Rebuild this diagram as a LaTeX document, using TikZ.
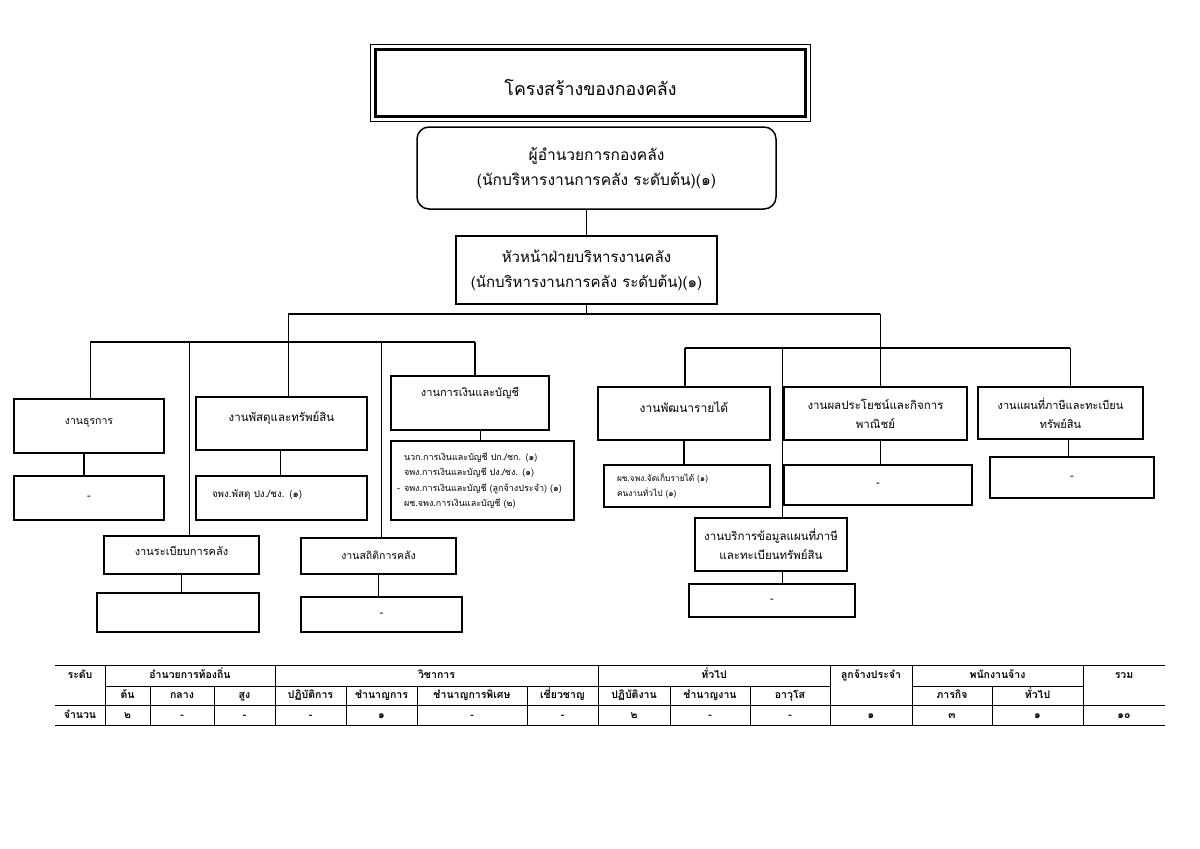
\documentclass[tikz,border=0pt]{standalone}
\usepackage{fontspec}
\setmainfont[Script=Thai]{Loma}
\newcommand\fsz[2]{\fontsize{#1}{#2}\selectfont}
\begin{document}
\begin{tikzpicture}[x=1pt,y=-1pt,
  box/.style={draw, line width=1.4pt, inner sep=0pt, align=center, font=\fsz{11}{19}},
  one/.style={text height=8pt, text depth=#1},
  one/.default=2pt,
  sub/.style={draw, line width=1.4pt, inner ysep=0pt, align=left, font=\fsz{9}{15.5}},
  conn/.style={line width=0.9pt},
  thk/.style={line width=2.4pt},
  bus/.style={line width=2.8pt},
  grid/.style={line width=0.8pt},
  cell/.style={inner sep=0pt, font=\fsz{10.5}{12}\bfseries, text height=7pt, text depth=2pt}
]
\useasboundingbox (0,0) rectangle (1200,849);
\fill[white] (0,0) rectangle (1200,849);

% ---- top
\node[draw, line width=2.2pt, minimum width=430, minimum height=67, inner sep=0pt,
      font=\fsz{17.8}{20}, text height=26pt, text depth=2pt] (title) at (590.5,83) {โครงสร้างของกองคลัง};
\draw[line width=1.2pt] ([xshift=-4pt,yshift=4pt]title.north west) rectangle ([xshift=4pt,yshift=-4pt]title.south east);

\node[draw, line width=1.5pt, rounded corners=12pt, minimum width=359, minimum height=82, inner sep=0pt,
      align=center, font=\fsz{15.5}{25}] (dir) at (596.5,168) {ผู้อำนวยการกองคลัง\\(นักบริหารงานการคลัง ระดับต้น)(๑)};
\node[box, line width=1.2pt, minimum width=261, minimum height=68, font=\fsz{15}{25}] (head) at (586.5,270)
      {หัวหน้าฝ่ายบริหารงานคลัง\\(นักบริหารงานการคลัง ระดับต้น)(๑)};

% ---- left group
\node[box, font=\fsz{10.5}{19}, one=12pt, minimum width=150, minimum height=54] (thu) at (89,426) {งานธุรการ};
\node[box, minimum width=150, minimum height=44] (thus) at (89,498) {-};
\node[box, font=\fsz{11.5}{19}, one=13pt, minimum width=171, minimum height=53] (pas) at (281.5,423.5) {งานพัสดุและทรัพย์สิน};
\node[sub, font=\fsz{9.8}{15.5}, minimum width=171, minimum height=44, text width=139pt, inner xsep=16pt] (pass) at (281.5,498)
      {จพง.พัสดุ ปง./ชง. (๑)\\[-6pt]\mbox{}};
\node[box, one=22pt, minimum width=158, minimum height=54] (fin) at (470,403) {งานการเงินและบัญชี};
\node[sub, minimum width=183, minimum height=79, text width=159pt, inner xsep=12pt] (fins) at (482.5,480.5)
      {\hspace*{1pt}นวก.การเงินและบัญชี ปก./ชก. (๑)\\\hspace*{1pt}จพง.การเงินและบัญชี ปง./ชง. (๑)\\\leavevmode\llap{- }\mbox{\hspace*{1pt}จพง.การเงินและบัญชี (ลูกจ้างประจำ) (๑)}\\\hspace*{1pt}ผช.จพง.การเงินและบัญชี (๒)};
\node[box, one=8pt, minimum width=155, minimum height=38] (reg) at (181.5,555) {งานระเบียบการคลัง};
\node[box, minimum width=162, minimum height=39] (regs) at (178,612.5) {};
\node[box, font=\fsz{10.5}{19}, one, minimum width=155, minimum height=36] (sta) at (378.5,556) {งานสถิติการคลัง};
\node[box, minimum width=161, minimum height=35] (stas) at (381.5,614.5) {-};

% ---- right group
\node[box, font=\fsz{12}{19}, one=11pt, minimum width=172, minimum height=53] (dev) at (684,413.5) {งานพัฒนารายได้};
\node[sub, font=\fsz{8.4}{15}, minimum width=166, minimum height=42, text width=140pt, inner xsep=13pt] (devs) at (687,486)
      {ผช.จพง.จัดเก็บรายได้ (๑)\\คนงานทั่วไป (๑)};
\node[box, font=\fsz{11.5}{19}, minimum width=183, minimum height=53] (ben) at (875.5,413.5) {งานผลประโยชน์และกิจการ\\พาณิชย์};
\node[box, minimum width=188, minimum height=40] (bens) at (878,485) {-};
\node[box, minimum width=165, minimum height=52] (map) at (1060.5,413) {งานแผนที่ภาษีและทะเบียน\\ทรัพย์สิน};
\node[box, line width=2pt, minimum width=164, minimum height=41] (maps) at (1072,477.5) {-};
\node[box, font=\fsz{11.5}{19}, minimum width=152, minimum height=53] (svc) at (771,544.5) {งานบริการข้อมูลแผนที่ภาษี\\และทะเบียนทรัพย์สิน};
\node[box, minimum width=166, minimum height=33] (svcs) at (772,600.5) {-};

% ---- connector coordinates
\coordinate (tl) at (288,314);
\coordinate (tr) at (880,314);
\coordinate (ll) at (90,342);
\coordinate (lr) at (475,342);
\coordinate (jreg) at (189,342);
\coordinate (jsta) at (381,342);
\coordinate (rl) at (685,348);
\coordinate (rr) at (1070,348);
\coordinate (jsvc) at (782,348);

\draw[conn] (head.north) -- (head.north |- dir.south);
\draw[conn] (head.south) -- (head.south |- tl);
\draw[bus] (tl) -- (tr);
\draw[conn] (tl) -- (tl |- ll);
\draw[bus] (ll) -- (lr);
\draw[conn] (ll) -- (ll |- thu.north);
\draw[conn] (jreg) -- (jreg |- reg.north);
\draw[conn] (tl |- ll) -- (tl |- pas.north);
\draw[conn] (jsta) -- (jsta |- sta.north);
\draw[thk] (lr) -- (lr |- fin.north);

\draw[conn] (tr) -- (tr |- ben.north);
\draw[bus] (rl) -- (rr);
\draw[thk] (rl) -- (rl |- dev.north);
\draw[conn] (jsvc) -- (jsvc |- svc.north);
\draw[conn] (rr) -- (rr |- map.north);

% ---- sub connectors
\draw[thk] ([xshift=-5pt]thu.south) -- ([xshift=-5pt]thu.south |- thus.north);
\draw[conn] ([xshift=-1.5pt]pas.south) -- ([xshift=-1.5pt]pas.south |- pass.north);
\draw[conn] ([xshift=-2.5pt]fins.north) -- ([xshift=-2.5pt]fins.north |- fin.south);
\draw[conn] (reg.south) -- (reg.south |- regs.north);
\draw[conn] (sta.south) -- (sta.south |- stas.north);
\draw[thk] (dev.south) -- (dev.south |- devs.north);
\draw[conn] ([xshift=4.5pt]ben.south) -- ([xshift=4.5pt]ben.south |- bens.north);
\draw[conn] ([xshift=-4pt]maps.north) -- ([xshift=-4pt]maps.north |- map.south);
\draw[conn] (jsvc |- svc.south) -- (jsvc |- svcs.north);

% ---- table
\draw[grid] (55,665) -- (1165,665);
\draw[grid] (55,705) -- (1165,705);
\draw[grid] (55,725) -- (1165,725);
\draw[grid] (105,686) -- (830,686);
\draw[grid] (912,686) -- (1083,686);
\foreach \x in {105,275,598,830,912,1083} \draw[grid] (\x,665) -- (\x,725);
\foreach \x in {150,214,346,417,527,670,750,992} \draw[grid] (\x,686) -- (\x,725);

\node[cell] (h0) at (80,676) {ระดับ};
\node[cell] (h1) at (190,676) {อำนวยการท้องถิ่น};
\node[cell] (h2) at (436.5,676) {วิชาการ};
\node[cell] (h3) at (714,676) {ทั่วไป};
\node[cell] (h4) at (871,676) {ลูกจ้างประจำ};
\node[cell] (h5) at (997.5,676) {พนักงานจ้าง};
\node[cell] (h6) at (1124,676) {รวม};

\node[cell] (s1) at (127.5,696) {ต้น};
\node[cell] (s2) at (182,696) {กลาง};
\node[cell] (s3) at (244.5,696) {สูง};
\node[cell] (s4) at (310.5,696) {ปฏิบัติการ};
\node[cell] (s5) at (381.5,696) {ชำนาญการ};
\node[cell] (s6) at (472,696) {ชำนาญการพิเศษ};
\node[cell] (s7) at (562.5,696) {เชี่ยวชาญ};
\node[cell] (s8) at (634,696) {ปฏิบัติงาน};
\node[cell] (s9) at (710,696) {ชำนาญงาน};
\node[cell] (s10) at (790,696) {อาวุโส};
\node[cell] (s11) at (952,696) {ภารกิจ};
\node[cell] (s12) at (1037.5,696) {ทั่วไป};

\node[cell] (n0) at (80,716) {จำนวน};
\node[cell] (n1) at (127.5,716) {๒};
\node[cell] (n2) at (182,716) {-};
\node[cell] (n3) at (244.5,716) {-};
\node[cell] (n4) at (310.5,716) {-};
\node[cell] (n5) at (381.5,716) {๑};
\node[cell] (n6) at (472,716) {-};
\node[cell] (n7) at (562.5,716) {-};
\node[cell] (n8) at (634,716) {๒};
\node[cell] (n9) at (710,716) {-};
\node[cell] (n10) at (790,716) {-};
\node[cell] (n11) at (871,716) {๑};
\node[cell] (n12) at (952,716) {๓};
\node[cell] (n13) at (1037.5,716) {๑};
\node[cell] (n14) at (1124,716) {๑๐};
\end{tikzpicture}
\end{document}
